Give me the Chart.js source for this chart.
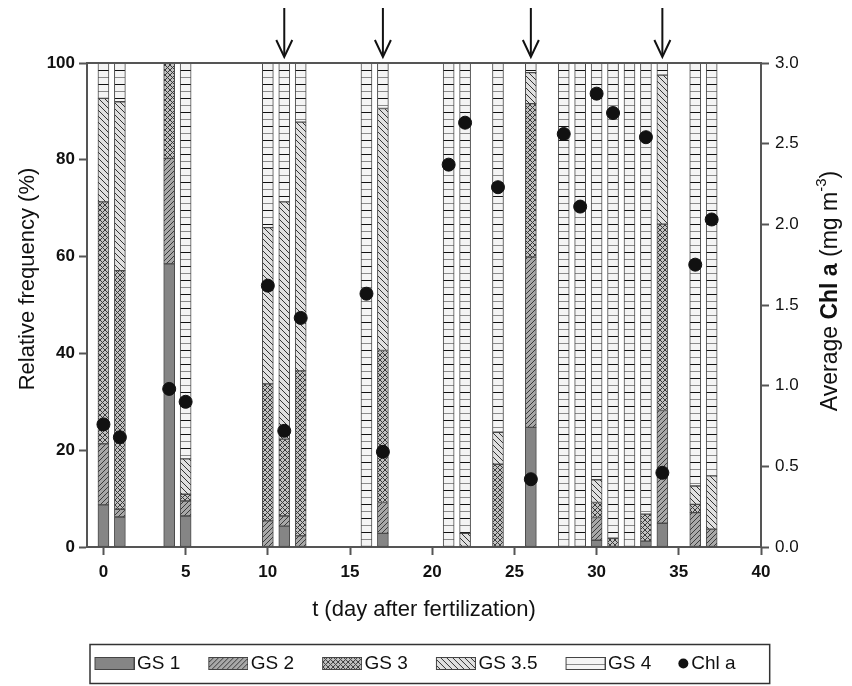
<!DOCTYPE html>
<html><head><meta charset="utf-8">
<script src="https://cdn.jsdelivr.net/npm/chart.js@4/dist/chart.umd.min.js"></script>
<style>html,body{margin:0;padding:0;background:#fff}</style>
</head><body>
<canvas id="c" width="852" height="686"></canvas>
<script>
// ---- data ----
const days   = [0, 1, 4, 5, 10, 11, 12, 16, 17, 21, 22, 24, 26, 28, 29, 30, 31, 32, 33, 34, 36, 37];
const gs1    = [8.7, 6.2, 58.5, 6.4, 0, 4.3, 0, 0, 2.8, 0, 0, 0, 24.7, 0, 0, 1.4, 0, 0, 1.2, 4.9, 0, 0];
const gs2    = [12.6, 1.6, 21.8, 3.1, 5.4, 2.1, 2.3, 0, 6.4, 0, 0, 0, 35.2, 0, 0, 4.7, 0, 0, 0, 23.3, 7.1, 3.7];
const gs3    = [50.0, 49.3, 19.7, 1.4, 28.3, 15.9, 34.1, 0, 31.4, 0, 0, 17.1, 31.7, 0, 0, 3.1, 1.8, 0, 5.6, 38.5, 1.7, 0];
const gs35   = [21.4, 34.9, 0, 7.3, 32.3, 49.0, 51.4, 0, 50.0, 0, 2.8, 6.6, 6.4, 0, 0, 4.7, 0, 0, 0, 30.8, 3.8, 11.0];
const gs4    = [7.3, 8.0, 0, 81.8, 34.0, 28.7, 12.2, 100, 9.4, 100, 97.2, 76.3, 2.0, 100, 100, 86.1, 98.2, 100, 93.2, 2.5, 87.4, 85.3];
const chlA   = [0.76, 0.68, 0.98, 0.90, 1.62, 0.72, 1.42, 1.57, 0.59, 2.37, 2.63, 2.23, 0.42, 2.56, 2.11, 2.81, 2.69, null, 2.54, 0.46, 1.75, 2.03];
const arrowDays = [11, 17, 26, 34];
const xTicks = [0, 5, 10, 15, 20, 25, 30, 35, 40];
const seriesLabels = ['GS 1', 'GS 2', 'GS 3', 'GS 3.5', 'GS 4', 'Chl a'];
const yTitle = 'Relative frequency (%)';
const xTitle = 't (day after fertilization)';

// ---- patterns ----
function tile(w, h, bg, fn) {
  const c = document.createElement('canvas'); c.width = w; c.height = h;
  const x = c.getContext('2d'); x.fillStyle = bg; x.fillRect(0, 0, w, h);
  if (fn) fn(x, w, h); return c;
}
function diag(x, s, dir, col) {
  x.strokeStyle = col; x.lineWidth = 1; x.beginPath();
  for (let k = -1; k <= 1; k++) {
    if (dir > 0) { x.moveTo(k * s - 1, s + 1); x.lineTo(k * s + s + 1, -1); }
    else { x.moveTo(k * s - 1, -1); x.lineTo(k * s + s + 1, s + 1); }
  }
  x.stroke();
}
const tiles = [
  tile(4, 4, '#858585'),
  tile(5, 5, '#a8a8a8', (x) => diag(x, 5, 1, '#3a3a3a')),
  tile(5, 5, '#c2c2c2', (x) => { diag(x, 5, 1, '#3a3a3a'); diag(x, 5, -1, '#3a3a3a'); }),
  tile(6, 6, '#e0e0e0', (x) => diag(x, 6, -1, '#333')),
  tile(4, 14, '#f4f4f4', (x) => { x.fillStyle = '#111'; x.fillRect(0, 0, 4, 1); x.fillStyle = '#8a8a8a'; x.fillRect(0, 7, 4, 1); })
];
const pctx = document.createElement('canvas').getContext('2d');
const patterns = tiles.map(t => pctx.createPattern(t, 'repeat'));

// legend icons (swatch drawn at right part of icon so that it sits next to the text)
function swatch(p) {
  const c = document.createElement('canvas'); c.width = 54; c.height = 13;
  const x = c.getContext('2d');
  x.fillStyle = p; x.fillRect(14, 0, 40, 13);
  x.strokeStyle = '#444'; x.lineWidth = 1; x.strokeRect(14.5, 0.5, 39, 12);
  return c;
}
const icons = patterns.map(swatch);

const segs = [gs1, gs2, gs3, gs35, gs4];
const barSets = segs.map((arr, i) => ({
  type: 'bar',
  label: seriesLabels[i],
  data: days.map((d, j) => ({ x: d, y: arr[j] > 0 ? arr[j] : null })),
  backgroundColor: patterns[i],
  borderColor: '#4a4a4a',
  borderWidth: 1,
  borderSkipped: false,
  barThickness: 11,
  yAxisID: 'y',
  order: 1
}));
const chlSet = {
  type: 'line',
  label: seriesLabels[5],
  data: days.map((d, j) => ({ x: d, y: chlA[j] })),
  showLine: false,
  pointRadius: 6.5,
  pointHoverRadius: 6.5,
  pointBackgroundColor: '#111',
  pointBorderColor: '#111',
  yAxisID: 'y1',
  order: -1
};

const FONT = 'Liberation Sans, Arial, sans-serif';
const LEGEND_LEFT = 66.5;

const extras = {
  id: 'extras',
  beforeDraw(chart) {
    // legend row starts where the reference has it
    const lg = chart.legend;
    const d = LEGEND_LEFT - lg.left;
    if (d !== 0) {
      lg.left = LEGEND_LEFT;
      (lg.legendHitBoxes || []).forEach(h => { h.left += d; });
    }
  },
  afterDraw(chart) {
    const ctx = chart.ctx, ca = chart.chartArea, xs = chart.scales.x;
    ctx.save();
    // top frame line
    ctx.strokeStyle = '#555'; ctx.lineWidth = 2;
    ctx.beginPath(); ctx.moveTo(ca.left - 1, ca.top); ctx.lineTo(ca.right + 1, ca.top); ctx.stroke();
    // arrows
    ctx.strokeStyle = '#111'; ctx.lineWidth = 2;
    arrowDays.forEach(d => {
      const x = xs.getPixelForValue(d);
      ctx.beginPath(); ctx.moveTo(x, 8); ctx.lineTo(x, 56); ctx.stroke();
      ctx.beginPath(); ctx.moveTo(x - 8, 40); ctx.lineTo(x, 57); ctx.lineTo(x + 8, 40); ctx.stroke();
    });
    ctx.restore();

    // left axis title
    ctx.save();
    ctx.translate(28, (ca.top + ca.bottom) / 2 - 26);
    ctx.rotate(-Math.PI / 2);
    ctx.fillStyle = '#111'; ctx.textBaseline = 'middle'; ctx.textAlign = 'center';
    ctx.font = '22px ' + FONT;
    ctx.fillText(yTitle, 0, 0);
    ctx.restore();

    // right axis title
    ctx.save();
    const parts = [
      { t: 'Average ', f: '23px ' + FONT, dy: 0 },
      { t: 'Chl a', f: 'bold 23px ' + FONT, dy: 0 },
      { t: ' (mg m', f: '23px ' + FONT, dy: 0 },
      { t: '-3', f: '15px ' + FONT, dy: -9 },
      { t: ')', f: '23px ' + FONT, dy: 0 }
    ];
    let total = 0;
    parts.forEach(p => { ctx.font = p.f; p.w = ctx.measureText(p.t).width; total += p.w; });
    ctx.translate(831, (ca.top + ca.bottom) / 2 - 14);
    ctx.rotate(-Math.PI / 2);
    ctx.fillStyle = '#111'; ctx.textBaseline = 'middle'; ctx.textAlign = 'left';
    let cx = -total / 2;
    parts.forEach(p => { ctx.font = p.f; ctx.fillText(p.t, cx, p.dy); cx += p.w; });
    ctx.restore();

    // Chl a legend entry + legend frame
    const hb = chart.legend.legendHitBoxes;
    if (hb && hb.length) {
      const first = hb[0], last = hb[hb.length - 1];
      const cy = last.top + last.height / 2;
      ctx.save();
      const dotX = last.left + last.width + 32;
      ctx.fillStyle = '#111';
      ctx.beginPath(); ctx.arc(dotX, cy, 5, 0, Math.PI * 2); ctx.fill();
      ctx.font = '19px ' + FONT; ctx.textBaseline = 'middle'; ctx.textAlign = 'left';
      ctx.fillText(seriesLabels[5], dotX + 8, cy);
      const textEnd = dotX + 8 + ctx.measureText(seriesLabels[5]).width;
      ctx.strokeStyle = '#333'; ctx.lineWidth = 1.5;
      const l = first.left + 2.5, r = textEnd + 34;
      ctx.strokeRect(l, first.top - 9.5, r - l, 39);
      ctx.restore();
    }
  }
};

new Chart(document.getElementById('c'), {
  data: { datasets: [...barSets, chlSet] },
  options: {
    responsive: false,
    animation: false,
    events: [],
    layout: { padding: { top: 63, right: 18, bottom: 3, left: 0 } },
    plugins: {
      tooltip: { enabled: false },
      legend: {
        position: 'bottom',
        align: 'start',
        labels: {
          usePointStyle: true,
          pointStyleWidth: 40,
          boxHeight: 13,
          padding: 21,
          color: '#111',
          font: { family: FONT, size: 19 },
          generateLabels(chart) {
            return chart.data.datasets.slice(0, 5).map((ds, i) => ({
              text: ds.label, pointStyle: icons[i], fillStyle: '#000', strokeStyle: 'transparent',
              lineWidth: 0, hidden: false, datasetIndex: i, fontColor: '#111'
            }));
          }
        }
      }
    },
    scales: {
      x: {
        type: 'linear', position: 'bottom', min: -1, max: 40, offset: false, stacked: true,
        afterBuildTicks(s) { s.ticks = xTicks.map(v => ({ value: v })); },
        afterFit(s) { s.height = 86; },
        ticks: { color: '#111', padding: 7, maxRotation: 0, autoSkip: false, font: { family: FONT, size: 17, weight: 'bold' } },
        grid: { display: true, offset: false, drawOnChartArea: false, drawTicks: true, tickLength: 8, tickWidth: 2, tickColor: '#555' },
        border: { display: true, color: '#555', width: 2 },
        title: { display: true, text: xTitle, color: '#111', padding: { top: 0, bottom: 10 },
                 font: { family: FONT, size: 22 } }
      },
      y: {
        type: 'linear', position: 'left', min: 0, max: 100, stacked: true,
        afterFit(s) { s.width = 87; },
        ticks: { stepSize: 20, color: '#111', padding: 4, font: { family: FONT, size: 17, weight: 'bold' } },
        grid: { display: true, drawOnChartArea: false, drawTicks: true, tickLength: 8, tickWidth: 2, tickColor: '#555' },
        border: { display: true, color: '#555', width: 2 },
        title: { display: false }
      },
      y1: {
        type: 'linear', position: 'right', min: 0, max: 3,
        afterFit(s) { s.width = 73; },
        ticks: { stepSize: 0.5, color: '#111', padding: 6, callback: v => v.toFixed(1), font: { family: FONT, size: 17 } },
        grid: { display: true, drawOnChartArea: false, drawTicks: true, tickLength: 8, tickWidth: 2, tickColor: '#555' },
        border: { display: true, color: '#555', width: 2 }
      }
    }
  },
  plugins: [extras]
});
</script>
</body></html>
